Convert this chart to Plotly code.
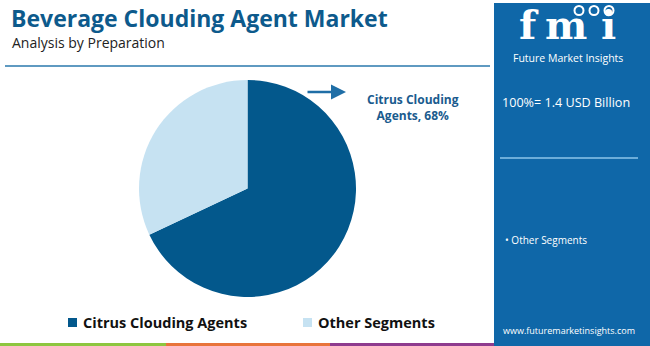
import plotly.graph_objects as go

categories = ["Citrus Clouding Agents", "Other Segments"]
shares = [68, 32]
colors = ["#03588c", "#c6e2f2"]

title = "Beverage Clouding Agent Market"
subtitle = "Analysis by Preparation"
total_label = "100%= 1.4 USD Billion"
callout = "Citrus Clouding<br>Agents, 68%"

W, H = 650, 346

def px(x):
    return x / W

def py(y):
    return 1 - y / H

fig = go.Figure()
fig.add_trace(go.Pie(
    labels=categories, values=shares, sort=False, direction="clockwise", rotation=0,
    marker=dict(colors=colors, line=dict(width=0)), textinfo="none", hoverinfo="label+percent",
    showlegend=False,
    domain=dict(x=[px(139), px(356)], y=[py(297), py(80)]),
))

shapes = []
ann = []
PANEL = "#0f67a8"
# right panel
shapes.append(dict(type="rect", xref="paper", yref="paper", x0=px(494), x1=1, y0=0, y1=py(3),
                   fillcolor=PANEL, line=dict(width=0), layer="below"))
# header line
shapes.append(dict(type="line", xref="paper", yref="paper", x0=px(5), x1=px(490), y0=py(66), y1=py(66),
                   line=dict(color="#2a78ad", width=1.5)))
# panel line
shapes.append(dict(type="line", xref="paper", yref="paper", x0=px(500), x1=px(638), y0=py(158), y1=py(158),
                   line=dict(color="#8cc4ea", width=1.5)))
# bottom bars
for x0, x1, c in [(0, 166, "#8dc63f"), (166, 330, "#e8743b"), (330, 494, "#8e3b8e")]:
    shapes.append(dict(type="rect", xref="paper", yref="paper", x0=px(x0), x1=px(x1), y0=0, y1=py(343),
                       fillcolor=c, line=dict(width=0)))
# arrow
ann.append(dict(xref="paper", yref="paper", x=px(346), y=py(92), ax=-40, ay=0,
                showarrow=True, arrowhead=2, arrowsize=1.2,
                arrowwidth=2.5, arrowcolor="#1f6ea6", text=""))
ann.append(dict(xref="paper", yref="paper", x=px(413), y=py(108), text="<b>" + callout + "</b>",
                showarrow=False, font=dict(family="Open Sans", size=12, color="#1a5b8e"),
                xanchor="center", yanchor="middle", align="center"))
# title
ann.append(dict(xref="paper", yref="paper", x=px(10), y=py(18), text="<b>" + title + "</b>",
                showarrow=False, xanchor="left", yanchor="middle", borderpad=0,
                font=dict(family="Open Sans", size=23, color="#0d5a8c")))
ann.append(dict(xref="paper", yref="paper", x=px(11), y=py(42), text=subtitle,
                showarrow=False, xanchor="left", yanchor="middle", borderpad=0,
                font=dict(family="Open Sans", size=14, color="#222222")))
# legend
leg_x = [72, 307]
for i, (cat, col) in enumerate(zip(categories, colors)):
    x = leg_x[i]
    shapes.append(dict(type="rect", xref="paper", yref="paper", x0=px(x - 4), x1=px(x + 5),
                       y0=py(327), y1=py(318), fillcolor=col, line=dict(width=0)))
    ann.append(dict(xref="paper", yref="paper", x=px(x + 9), y=py(322), text="<b>" + cat + "</b>",
                    showarrow=False, xanchor="left", yanchor="middle",
                    font=dict(family="Open Sans", size=14.5, color="#111111")))
# logo letters
for letter, lx in [("f", 529), ("m", 566), ("i", 608)]:
    ann.append(dict(xref="paper", yref="paper", x=px(lx), y=py(25), text="<b>" + letter + "</b>",
                    showarrow=False, xanchor="center", yanchor="middle", borderpad=0,
                    font=dict(family="DejaVu Serif", size=40, color="#ffffff")))
for cx in [579, 594, 609]:
    shapes.append(dict(type="circle", xref="paper", yref="paper", x0=px(cx - 4.5), x1=px(cx + 4.5),
                       y0=py(15), y1=py(6), fillcolor=PANEL, line=dict(color="#ffffff", width=2)))
ann.append(dict(xref="paper", yref="paper", x=px(568), y=py(58), text="Future Market Insights",
                showarrow=False, xanchor="center", yanchor="middle", borderpad=0,
                font=dict(family="Open Sans", size=10.5, color="#ffffff")))
ann.append(dict(xref="paper", yref="paper", x=px(500), y=py(103), text=total_label,
                showarrow=False, xanchor="left", yanchor="middle",
                font=dict(family="Open Sans", size=12.6, color="#ffffff")))
ann.append(dict(xref="paper", yref="paper", x=px(503), y=py(240), text="• " + categories[1],
                showarrow=False, xanchor="left", yanchor="middle",
                font=dict(family="Open Sans", size=10, color="#ffffff")))
ann.append(dict(xref="paper", yref="paper", x=px(569), y=py(330), text="www.futuremarketinsights.com",
                showarrow=False, xanchor="center", yanchor="middle",
                font=dict(family="Open Sans", size=9, color="#ffffff")))

fig.update_layout(width=W, height=H, margin=dict(l=0, r=0, t=0, b=0),
                  paper_bgcolor="#ffffff", plot_bgcolor="#ffffff",
                  shapes=shapes, annotations=ann, showlegend=False)
fig.write_html("out.html")
